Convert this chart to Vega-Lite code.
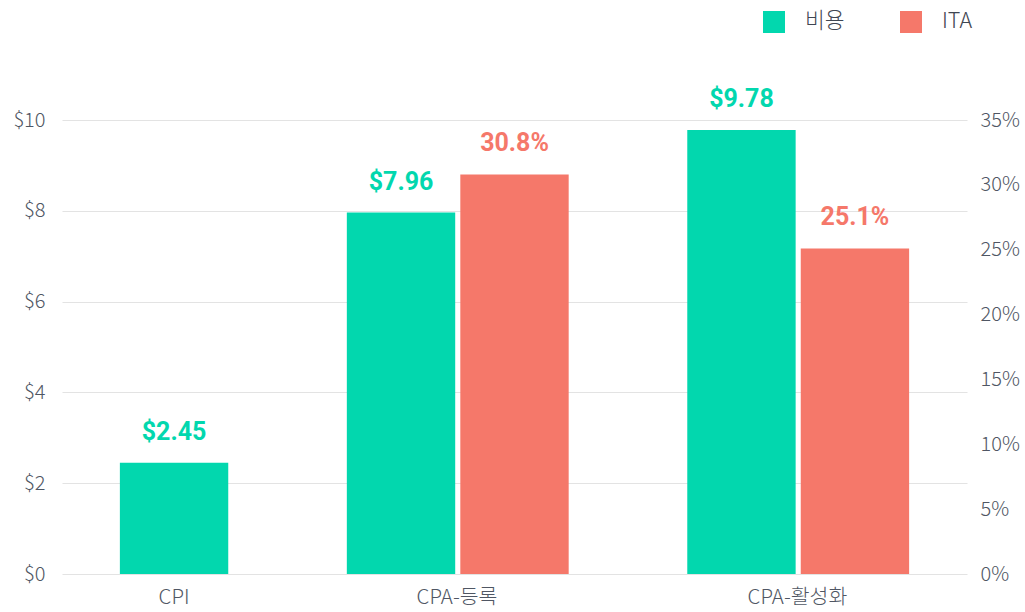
{
  "$schema": "https://vega.github.io/schema/vega-lite/v6.json",
  "width": 905,
  "height": 454,
  "autosize": {"type": "none"},
  "padding": {"left": 62, "top": 120, "right": 58, "bottom": 38},
  "config": {"view": {"stroke": null}},
  "data": {
    "values": [
      {"slot": "CPI|비용", "category": "CPI", "series": "비용", "value": 2.45},
      {"slot": "CPA-등록|비용", "category": "CPA-등록", "series": "비용", "value": 7.96},
      {"slot": "CPA-등록|ITA", "category": "CPA-등록", "series": "ITA", "value": 0.308},
      {"slot": "CPA-활성화|비용", "category": "CPA-활성화", "series": "비용", "value": 9.78},
      {"slot": "CPA-활성화|ITA", "category": "CPA-활성화", "series": "ITA", "value": 0.251}
    ]
  },
  "encoding": {
    "x": {
      "field": "slot",
      "type": "nominal",
      "sort": null,
      "scale": {
        "domain": ["CPI|비용", "gap1", "CPA-등록|비용", "CPA-등록|ITA", "gap2", "CPA-활성화|비용", "CPA-활성화|ITA"],
        "paddingInner": 0.045,
        "paddingOuter": 0.51
      },
      "axis": {
        "title": null,
        "domain": false,
        "ticks": false,
        "tickSize": 0,
        "labelPadding": 13,
        "labelAngle": 0,
        "labelOverlap": false,
        "labelFont": "Noto Sans CJK KR",
        "labelFontWeight": 300,
        "labelFontSize": 20.5,
        "labelColor": "#4f5663",
        "labelExpr": "indexof(datum.value, '|비용') > 0 ? split(datum.value, '|')[0] : ''",
        "labelOffset": {"condition": {"test": "datum.value === 'CPI|비용'", "value": 0}, "value": 56}
      }
    }
  },
  "layer": [
    {
      "transform": [{"filter": "datum.series === '비용'"}],
      "encoding": {
        "y": {
          "field": "value",
          "type": "quantitative",
          "scale": {"domain": [0, 10]},
          "axis": {
            "title": null,
            "values": [0, 2, 4, 6, 8, 10],
            "format": "$.0f",
            "grid": true,
            "gridColor": "#e3e3e3",
            "domain": false,
            "ticks": false,
            "labelPadding": 17,
            "labelFont": "Noto Sans CJK KR",
            "labelFontWeight": 300,
            "labelFontSize": 20,
            "labelColor": "#4f5663"
          }
        }
      },
      "layer": [
        {
          "mark": {"type": "bar"},
          "encoding": {
            "color": {
              "field": "series",
              "type": "nominal",
              "scale": {"domain": ["비용", "ITA"], "range": ["#02d7ae", "#f5786a"]},
              "legend": {
                "title": null,
                "orient": "none",
                "legendX": 701,
                "legendY": -109,
                "direction": "horizontal",
                "symbolType": "square",
                "symbolSize": 484,
                "symbolStrokeWidth": 0,
                "symbolOpacity": 1,
                "labelFont": "Noto Sans CJK KR",
                "labelFontWeight": 300,
                "labelFontSize": 21.5,
                "labelColor": "#3f4652",
                "labelOffset": 20,
                "columnPadding": 55
              }
            }
          }
        },
        {
          "mark": {"type": "text", "dy": -23, "baseline": "alphabetic", "font": "Roboto", "fontWeight": "bold", "fontSize": 25, "color": "#02d7ae"},
          "encoding": {"text": {"field": "value", "type": "quantitative", "format": "$.2f"}}
        }
      ]
    },
    {
      "transform": [{"filter": "datum.series === 'ITA'"}],
      "encoding": {
        "y": {
          "field": "value",
          "type": "quantitative",
          "scale": {"domain": [0, 0.35]},
          "axis": {
            "title": null,
            "orient": "right",
            "values": [0, 0.05, 0.1, 0.15, 0.2, 0.25, 0.3, 0.35],
            "format": ".0%",
            "grid": false,
            "domain": false,
            "ticks": false,
            "labelPadding": 13,
            "labelFont": "Noto Sans CJK KR",
            "labelFontWeight": 300,
            "labelFontSize": 20,
            "labelColor": "#4f5663"
          }
        }
      },
      "layer": [
        {
          "mark": {"type": "bar"},
          "encoding": {
            "color": {"field": "series", "type": "nominal"}
          }
        },
        {
          "mark": {"type": "text", "dy": -23, "baseline": "alphabetic", "font": "Roboto", "fontWeight": "bold", "fontSize": 25, "color": "#f5786a"},
          "encoding": {"text": {"field": "value", "type": "quantitative", "format": ".1%"}}
        }
      ]
    }
  ],
  "resolve": {"scale": {"y": "independent"}}
}
